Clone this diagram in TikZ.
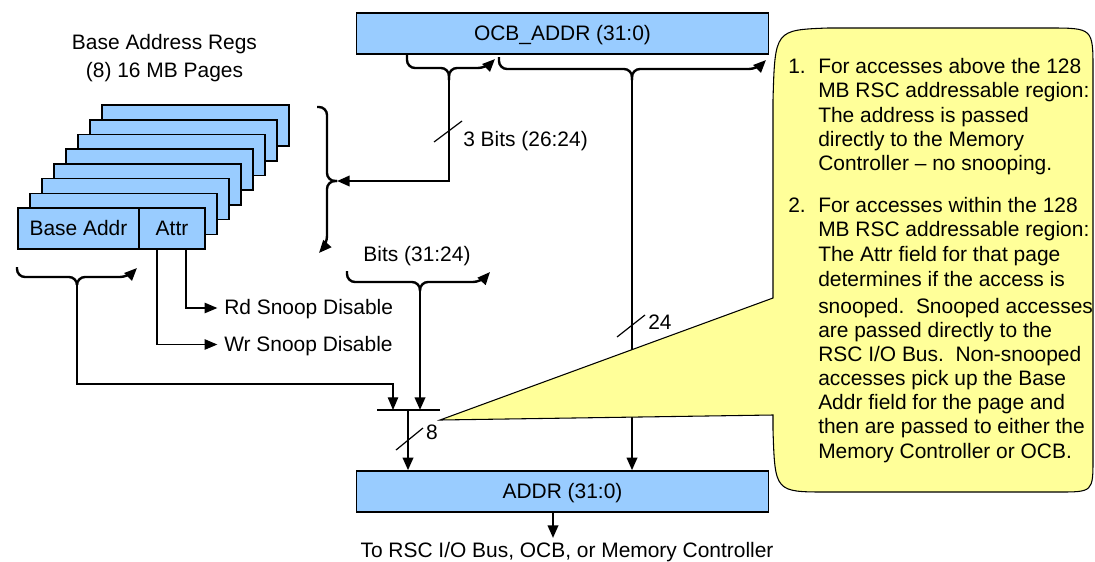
\documentclass[tikz,border=0pt]{standalone}
\usepackage{fontspec}
\setmainfont{Liberation Sans}
\usetikzlibrary{arrows.meta}
\definecolor{regblue}{HTML}{99CCFF}
\definecolor{noteyellow}{HTML}{FFFF99}

\begin{document}
\begin{tikzpicture}[x=0.75pt,y=-0.75pt,
  font=\fontsize{15.7}{18}\selectfont,
  >={Triangle[length=9.5pt,width=7.8pt]},
  bus/.style={line width=1.8pt},
  wire/.style={line width=0.9pt},
  brace/.style={bus,rounded corners=6pt},
  reg/.style={draw,line width=1.1pt,fill=regblue,inner sep=0pt,
    minimum height=30.75pt,text height=11pt,text depth=0pt},
  lbl/.style={inner sep=0pt,text height=11pt,text depth=0pt},
  note/.style={inner sep=0pt,anchor=base west},
  num/.style={inner sep=0pt,anchor=base east},
]

\useasboundingbox (0,0) rectangle (1095,561);

% ---- stack of eight base address registers ----
\node[lbl] (title1) at (164.5,42) {Base Address Regs};
\node[lbl] (title2) at (164.5,70) {(8) 16 MB Pages};
\foreach \i in {7,6,...,1}{
  \node[reg,minimum width=140.25pt] (page\i) at ({111.5+12*\i},{228.5-14.7*\i}) {};
}
\node[reg,minimum width=90.75pt] (base) at (78.5,228.5) {Base Addr};
\node[reg,minimum width=49.5pt] (attr) at (172,228.5) {Attr};

% ---- address registers ----
\node[reg,minimum width=309pt] (ocb) at (562.5,33.5) {OCB\_ADDR (31:0)};
\node[reg,minimum width=309pt] (addr) at (562.5,491.5) {ADDR (31:0)};
\node[lbl] (dest) at (567,550.5) {To RSC I/O Bus, OCB, or Memory Controller};
\coordinate (dn) at (553,538);
\draw[bus,->] (dn |- addr.south) -- (dn);

% ---- brace under OCB_ADDR: bits 26:24 select the page ----
\coordinate (t3) at (449,80);
\draw[brace] (407,55) -- (407,68) -- (449,68) -- (t3);
\draw[brace,->] (t3) -- (449,68) -- (486,68) -- (495,59);

% brace beside the register stack
\coordinate (s3) at (337,181);
\draw[brace] (317,107) -- (327,107) -- (327,181) -- (s3);
\draw[brace,->] (s3) -- (327,181) -- (327,244) -- (319,253);
\draw[bus,->] (t3) -- (t3 |- s3) -- (s3);
\draw[wire] (434,142) -- (462,121);
\node[lbl,anchor=west] (b3) at (463,139.5) {3 Bits (26:24)};

% ---- brace under OCB_ADDR: low 24 bits ----
\coordinate (t24) at (632,80);
\draw[brace] (499,57) -- (499,69) -- (632,69) -- (t24);
\draw[brace,->] (t24) -- (632,69) -- (757,69) -- (766,60);
\draw[bus,->] (t24) -- (t24 |- addr.north);
\draw[wire] (617,337) -- (645,315);
\node[lbl,anchor=west] (b24) at (648,321.7) {24};

% ---- Bits (31:24) brace and the merge bar ----
\node[lbl] (b31) at (417,254) {Bits (31:24)};
\coordinate (tb) at (420,291);
\draw[brace] (347,271) -- (347,282) -- (420,282) -- (tb);
\draw[brace,->] (tb) -- (420,282) -- (481,282) -- (490,272);
\coordinate (barL) at (377,410);
\coordinate (barR) at (440,410);
\draw[wire] (barL) -- (barR);
\draw[bus,->] (tb) -- (tb |- barL);
\coordinate (bo) at (408,410);
\draw[bus,->] (bo) -- (bo |- addr.north);
\draw[wire] (396,450) -- (423,428);
\node[lbl] (b8) at (432,432.5) {8};

% ---- brace under Base Addr / Attr ----
\coordinate (tba) at (77,285);
\draw[brace] (17,267) -- (17,277) -- (77,277) -- (tba);
\draw[brace,->] (tba) -- (77,277) -- (128,277) -- (137,268);
\coordinate (bb) at (393,384);
\draw[wire,->] (tba) -- (tba |- bb) -- (bb) -- (bb |- barL);

% ---- snoop disable outputs of the Attr field ----
\node[lbl,anchor=west] (rd) at (224,307) {Rd Snoop Disable};
\node[lbl,anchor=west] (wr) at (224,344.5) {Wr Snoop Disable};
\coordinate (rdx) at (186,308);
\coordinate (wrx) at (157,344.5);
\draw[wire,->] (rdx |- attr.south) -- (rdx) -- ([xshift=-5pt]rd.west |- rdx);
\draw[wire,->] (wrx |- attr.south) -- (wrx) -- ([xshift=-5pt]wr.west);

% ---- callout ----
\draw[line width=0.8pt,fill=noteyellow] (773,298) -- (773,100)
  .. controls (775,30) .. (828,28) -- (1048,28)
  .. controls (1093,28) .. (1093,70) -- (1093,458)
  .. controls (1093,492) .. (1058,492) -- (827,492)
  .. controls (775,492) .. (773,430) -- (773,415) -- (440,420) -- cycle;

\node[num] (k1) at (806,73) {1.};
\node[note] (n1) at (818,73) {For accesses above the 128};
\node[note] (n2) at (818,97.5) {MB RSC addressable region:};
\node[note] (n3) at (818,122) {The address is passed};
\node[note] (n4) at (818,146) {directly to the Memory};
\node[note] (n5) at (818,170.5) {Controller – no snooping.};
\node[num] (k2) at (806,212) {2.};
\node[note] (n6) at (818,212) {For accesses within the 128};
\node[note] (n7) at (818,236.5) {MB RSC addressable region:};
\node[note] (n8) at (818,261) {The Attr field for that page};
\node[note] (n9) at (818,286.5) {determines if the access is};
\node[note] (n10) at (818,313) {snooped.\ \ Snooped accesses};
\node[note] (n11) at (818,337) {are passed directly to the};
\node[note] (n12) at (818,361) {RSC I/O Bus.\ \ Non-snooped};
\node[note] (n13) at (818,385) {accesses pick up the Base};
\node[note] (n14) at (818,409.5) {Addr field for the page and};
\node[note] (n15) at (818,433.5) {then are passed to either the};
\node[note] (n16) at (818,458) {Memory Controller or OCB.};
\end{tikzpicture}
\end{document}
